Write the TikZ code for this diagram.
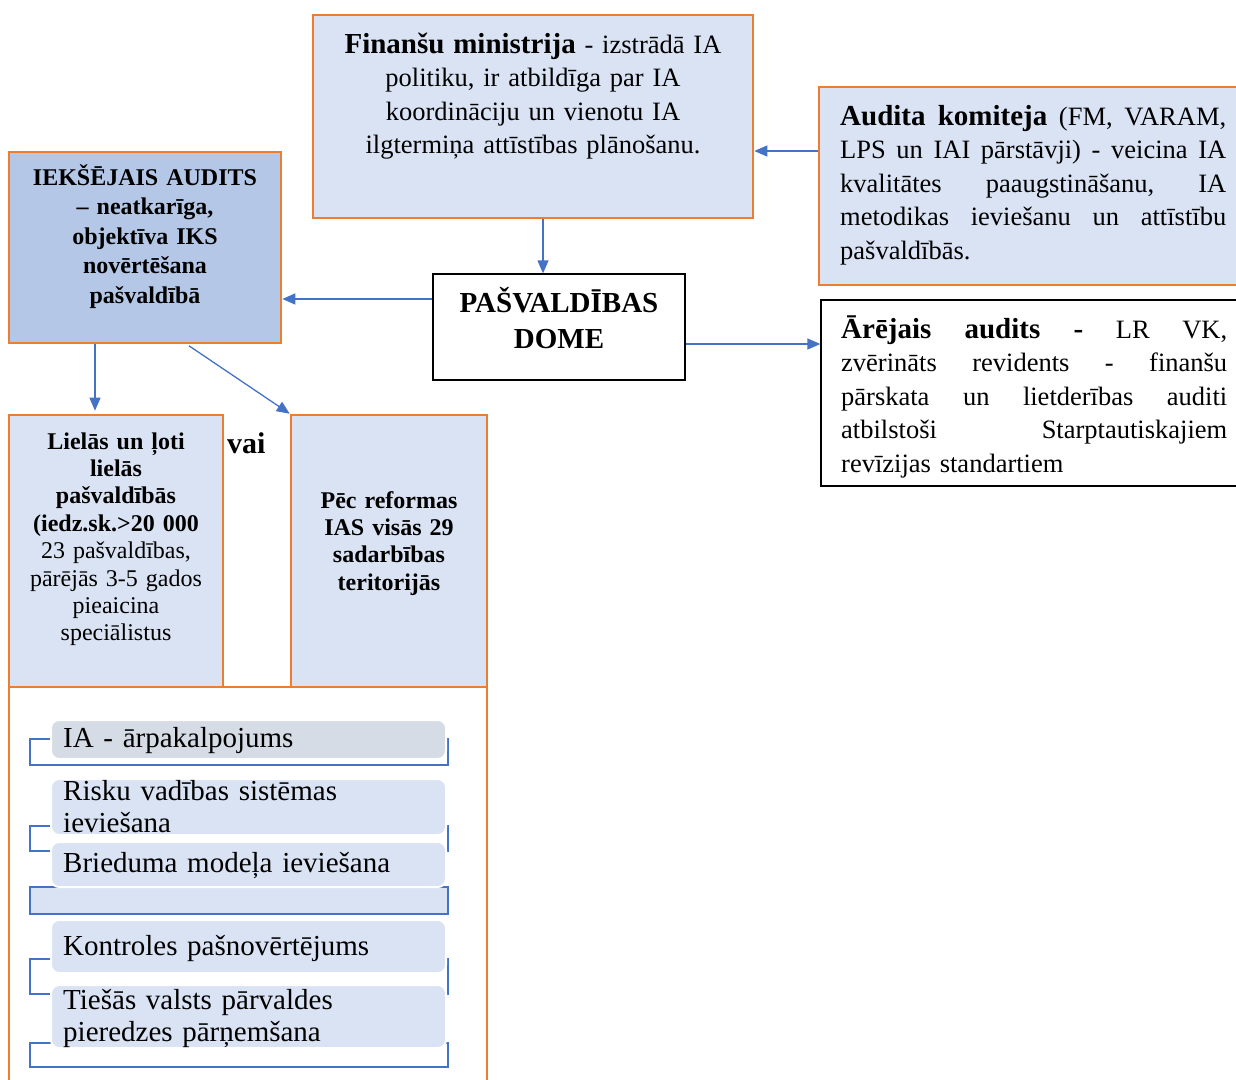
\documentclass[tikz,border=0pt]{standalone}
\usepackage{fontspec}
\setmainfont{Liberation Serif}
\usetikzlibrary{arrows.meta}

\definecolor{paleblue}{HTML}{DAE3F3}
\definecolor{midblue}{HTML}{B4C7E7}
\definecolor{greyblue}{HTML}{D6DCE5}
\definecolor{accent}{HTML}{ED7D31}
\definecolor{linkblue}{HTML}{4472C4}

\newcommand{\hdfont}{\fontsize{29}{33.5}\selectfont\bfseries}
% justified line of fixed width, word gaps stretch equally
\newcommand{\jl}[1]{\leavevmode\hbox to 386pt{#1}}
\newcommand{\js}{\hspace{0.25em plus 1fill}}

\begin{document}
\begin{tikzpicture}[x=1pt,y=1pt,
  orangebox/.style={rectangle, draw=accent, line width=2.6pt, fill=paleblue, inner sep=0pt},
  plainbox/.style={rectangle, draw=black, line width=1.3pt, fill=white, inner sep=0pt},
  conn/.style={draw=linkblue, line width=1.3pt, -{Triangle[length=13pt,width=11pt]}},
  bracket/.style={rectangle, draw=linkblue, line width=2.6pt, fill=white, inner sep=0pt},
  itembox/.style={rectangle, draw=white, line width=2pt, fill=paleblue, rounded corners=8pt, inner sep=0pt},
  txt/.style={inner sep=0pt, anchor=base},
  body/.style={font=\fontsize{26.5}{33.5}\selectfont},
  small/.style={font=\fontsize{24}{27.4}\selectfont},
  itemtxt/.style={inner sep=0pt, anchor=base west, text width=380pt, align=left, font=\fontsize{29}{32}\selectfont}
]
\useasboundingbox (0,0) rectangle (1236,-1079);

% ---- boxes ----
\node[orangebox, minimum width=440pt, minimum height=203pt] (fm) at (533,-116.5) {};
\node[orangebox, minimum width=426pt, minimum height=198pt] (ak) at (1032,-186) {};
\node[orangebox, fill=midblue, minimum width=272pt, minimum height=191pt] (ia) at (145,-247.5) {};
\node[plainbox, minimum width=252pt, minimum height=106pt] (pd) at (559,-327) {};
\node[plainbox, minimum width=424pt, minimum height=186pt] (ea) at (1033,-393) {};
\node[orangebox, fill=white, minimum width=478pt, minimum height=403pt] (cont) at (248,-888.5) {};
\node[orangebox, minimum width=214pt, minimum height=272pt] (li) at (116,-551) {};
\node[orangebox, minimum width=196pt, minimum height=272pt] (pr) at (389,-551) {};

% ---- texts ----
\node[txt, text width=430pt, align=center, body] (fmtext) at (533,-53)
  {{\hdfont Finanšu ministrija} - izstrādā IA\\politiku, ir atbildīga par IA\\koordināciju un vienotu IA\\ilgtermiņa attīstības plānošanu.};

\node[txt, anchor=base west, text width=386pt, align=left, body] (aktext) at (840,-125)
  {\jl{{\hdfont Audita\js komiteja}\js(FM,\js VARAM,}\\
   \jl{LPS\js un\js IAI\js pārstāvji)\js -\js veicina\js IA}\\
   \jl{kvalitātes\js paaugstināšanu,\js IA}\\
   \jl{metodikas\js ieviešanu\js un\js attīstību}\\
   pašvaldībās.};

\node[txt, anchor=base west, text width=386pt, align=left, body] (eatext) at (841,-338)
  {\jl{{\hdfont Ārējais\js audits\js -}\js LR\js VK,}\\
   \jl{zvērināts\js revidents\js -\js finanšu}\\
   \jl{pārskata\js un\js lietderības\js auditi}\\
   \jl{atbilstoši\js Starptautiskajiem}\\
   revīzijas standartiem};

\node[txt, text width=260pt, align=center, font=\fontsize{24}{29.6}\selectfont\bfseries] (iatext) at (145,-185)
  {IEKŠĒJAIS AUDITS\\– neatkarīga,\\objektīva IKS\\novērtēšana\\pašvaldībā};

\node[txt, text width=245pt, align=center, font=\fontsize{29}{36}\selectfont\bfseries] (pdtext) at (559,-312)
  {PAŠVALDĪBAS\\DOME};

\node[txt, text width=205pt, align=center, small] (litext) at (116,-449)
  {\textbf{Lielās un ļoti}\\\textbf{lielās}\\\textbf{pašvaldībās}\\\textbf{(iedz.sk.>20 000}\\23 pašvaldības,\\pārējās 3-5 gados\\pieaicina\\speciālistus};

\node[txt, text width=190pt, align=center, font=\fontsize{24}{27.4}\selectfont\bfseries] (prtext) at (389,-508)
  {Pēc reformas\\IAS visās 29\\sadarbības\\teritorijās};

\node[txt, anchor=base west, font=\fontsize{30}{36}\selectfont\bfseries] (vai) at (227,-453) {vai};

% ---- grouped list ----
\node[bracket, minimum width=418pt, minimum height=26pt] (br1) at (239,-752) {};
\node[itembox, fill=greyblue, minimum width=395pt, minimum height=39pt] (it1) at (248.5,-739.5) {};
\node[bracket, minimum width=418pt, minimum height=25pt] (br2) at (239,-838.5) {};
\node[itembox, minimum width=395pt, minimum height=56pt] (it2) at (248.5,-807) {};
\node[bracket, fill=paleblue, minimum width=418pt, minimum height=27pt] (br3) at (239,-900.5) {};
\node[itembox, minimum width=395pt, minimum height=45pt] (it3) at (248.5,-864.5) {};
\node[bracket, minimum width=418pt, minimum height=35pt] (br4) at (239,-976.5) {};
\node[itembox, minimum width=395pt, minimum height=53pt] (it4) at (248.5,-946.5) {};
\node[bracket, minimum width=418pt, minimum height=24pt] (br5) at (239,-1055) {};
\node[itembox, minimum width=395pt, minimum height=63pt] (it5) at (248.5,-1016.5) {};

\node[itemtxt] (t1) at (63,-747) {IA - ārpakalpojums};
\node[itemtxt] (t2) at (63,-800) {Risku vadības sistēmas\\ieviešana};
\node[itemtxt] (t3) at (63,-872) {Brieduma modeļa ieviešana};
\node[itemtxt] (t4) at (63,-955) {Kontroles pašnovērtējums};
\node[itemtxt] (t5) at (63,-1009) {Tiešās valsts pārvaldes\\pieredzes pārņemšana};

% ---- connectors ----
\draw[conn] ([yshift=35pt]ak.west) -- ([yshift=-34.5pt]fm.east);
\draw[conn] ([xshift=10pt]fm.south) -- ([xshift=-16pt]pd.north);
\draw[conn] ([yshift=28pt]pd.west) -- ([yshift=-51.5pt]ia.east);
\draw[conn] ([yshift=-17pt]pd.east) -- ([yshift=49pt]ea.west);
\draw[conn, shorten >=3pt] ([xshift=-50pt]ia.south) -- ([xshift=-21pt]li.north);
\draw[conn] ([xshift=44pt,yshift=-1.5pt]ia.south) -- (pr.north west);
\end{tikzpicture}
\end{document}
